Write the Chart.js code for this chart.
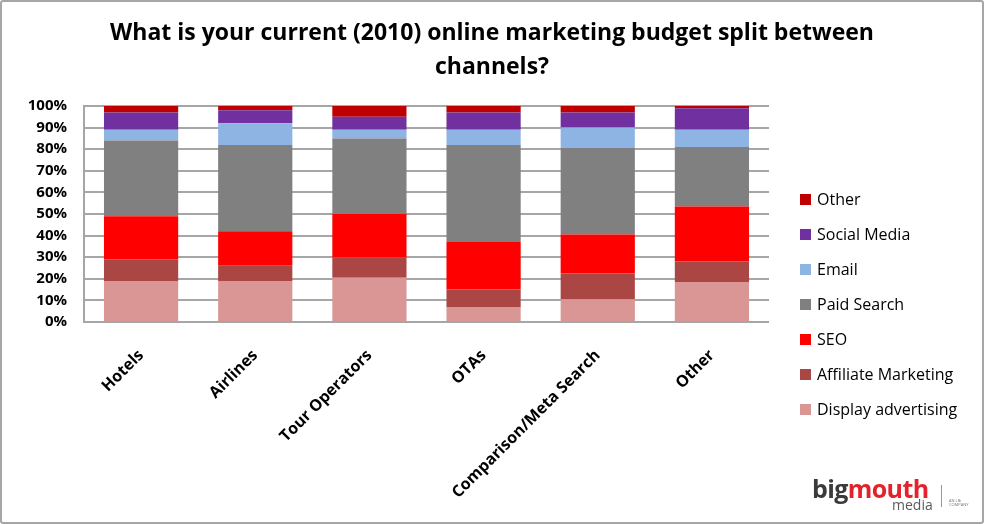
<!DOCTYPE html>
<html lang="en">
<head>
<meta charset="UTF-8">
<title>Online marketing budget split 2010</title>
<script src="https://cdn.jsdelivr.net/npm/chart.js"></script>
<style>
  body { margin: 0; background: #fff; font-family: "Open Sans", sans-serif; }
  .quadro {
    position: relative; width: 984px; height: 524px;
    box-sizing: border-box; border: 2px solid #a6a6a6; border-radius: 3px;
  }
  #grafico { position: absolute; left: 0; top: 0; }
  .legenda { position: absolute; left: 798px; top: 180px; }
  .legenda div { height: 35px; line-height: 35px; font-size: 16px; color: #000; white-space: nowrap; }
  .legenda span { display: inline-block; width: 11px; height: 11px; margin-right: 6px; vertical-align: 0px; }
  .logo { position: absolute; left: 810px; top: 470px; width: 170px; height: 44px; }
  .logo .marca { position: absolute; left: 0; top: 0; font-size: 25px; font-weight: 700; letter-spacing: -0.6px; line-height: 32px; }
  .logo .big { color: #3b3b3b; }
  .logo .mouth { color: #e3232b; }
  .logo .media { position: absolute; left: 80px; top: 24px; font-size: 14px; line-height: 18px; color: #5a5a5a; }
  .logo .barra { position: absolute; left: 129px; top: 13px; width: 1px; height: 22px; background: #9a9a9a; }
  .logo .lbi { position: absolute; left: 137px; top: 27px; font-size: 4px; line-height: 4px; color: #777; width: 30px; }
</style>
</head>
<body>
<div class="quadro">
  <canvas id="grafico" width="980" height="520"></canvas>
  <div class="legenda" id="legenda"></div>
  <div class="logo">
    <div class="marca"><span class="big">big</span><span class="mouth">mouth</span></div>
    <div class="media">media</div>
    <div class="barra"></div>
    <div class="lbi">AN LBi<br>COMPANY</div>
  </div>
</div>
<script>
// categorias e fatias do orcamento (%) de baixo para cima na pilha
const categorias = ['Hotels', 'Airlines', 'Tour Operators', 'OTAs', 'Comparison/Meta Search', 'Other'];
const displayAdv  = [19, 19, 20.5, 7, 10.5, 18.5];
const afiliados   = [10, 7, 9.5, 8, 12, 9.5];
const seo         = [20, 16, 20, 22, 18, 25.5];
const paidSearch  = [35, 40, 35, 45, 40, 27.5];
const email       = [5, 10, 4, 7, 9.5, 8];
const socialMedia = [8, 6, 6, 8, 7, 10];
const outros      = [3, 2, 5, 3, 3, 1];
const ticksY = ['0%', '10%', '20%', '30%', '40%', '50%', '60%', '70%', '80%', '90%', '100%'];

const titulo = ['What is your current (2010) online marketing budget split between', 'channels?'];

function serie(label, data, cor) {
    return { label: label, data: data, backgroundColor: cor, borderWidth: 0,
             barPercentage: 0.65, categoryPercentage: 1 };
}

const dados = {
    labels: categorias,
    datasets: [
        serie('Display advertising', displayAdv, '#d99694'),
        serie('Affiliate Marketing', afiliados, '#aa4643'),
        serie('SEO', seo, '#ff0000'),
        serie('Paid Search', paidSearch, '#808080'),
        serie('Email', email, '#8eb4e3'),
        serie('Social Media', socialMedia, '#7030a0'),
        serie('Other', outros, '#c00000')
    ]
};

const fonteX = { family: 'Open Sans', size: 16, weight: 'bold' };
const fonteY = { family: 'Open Sans', size: 15, weight: 'bold', lineHeight: 1 };

const config = {
    type: 'bar',
    data: dados,
    options: {
        responsive: false,
        animation: false,
        layout: { padding: 0 },
        plugins: {
            legend: { display: false },
            tooltip: { enabled: false },
            title: {
                display: true,
                text: titulo,
                color: '#000',
                font: { family: 'Open Sans', size: 23, weight: 'bold', lineHeight: '34px' },
                padding: { top: 14, bottom: 22 }
            }
        },
        scales: {
            x: {
                stacked: true,
                grid: { display: false },
                border: { display: false },
                ticks: { color: '#000', font: fonteX, minRotation: 45, maxRotation: 45, padding: 16, autoSkip: false },
                afterFit: function (escala) { escala.height = 200; }
            },
            y: {
                stacked: true,
                min: 0,
                max: 100,
                grid: { color: '#a6a6a6', lineWidth: 2, drawTicks: false },
                border: { display: true, color: '#a6a6a6', width: 2 },
                ticks: {
                    stepSize: 10, autoSkip: false, color: '#000', font: fonteY, padding: 17,
                    callback: function (valor, i) { return ticksY[i]; }
                },
                afterFit: function (escala) { escala.width = 82; }
            },
            // espaco reservado para a legenda na direita
            espaco: {
                type: 'linear',
                position: 'right',
                grid: { display: false },
                border: { display: false },
                ticks: { display: false },
                afterFit: function (escala) { escala.width = 213; }
            }
        }
    }
};

let myChart = new Chart(document.getElementById('grafico'), config);

// legenda em html, na ordem inversa da pilha
const legenda = document.getElementById('legenda');
myChart.data.datasets.slice().reverse().forEach(function (ds) {
    const item = document.createElement('div');
    item.innerHTML = '<span style="background:' + ds.backgroundColor + '"></span>' + ds.label;
    legenda.appendChild(item);
});
</script>
</body>
</html>
